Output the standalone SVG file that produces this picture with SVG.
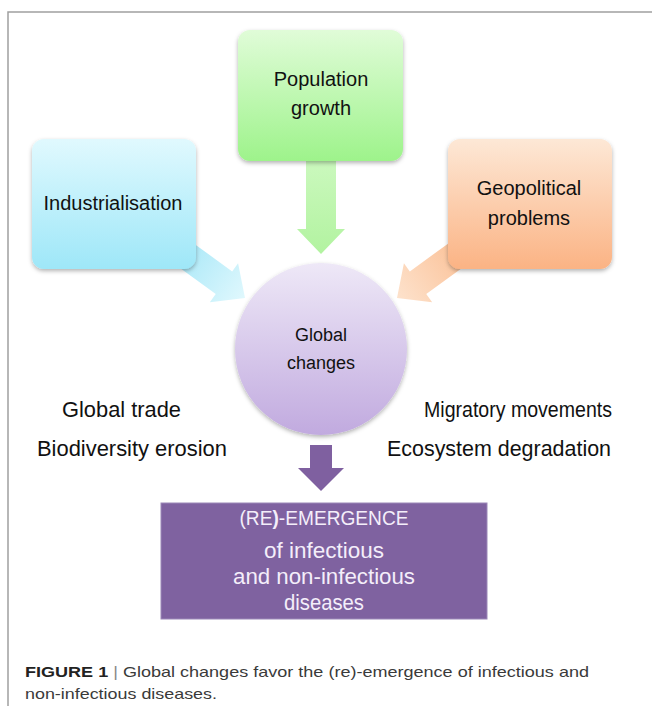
<svg xmlns="http://www.w3.org/2000/svg" width="652" height="706" viewBox="0 0 652 706">
  <defs>
    <style>
      .t { font-family: "Liberation Sans", Arial, sans-serif; fill: #111; }
      .box { font-size: 20px; text-anchor: middle; }
      .mid { font-size: 21.5px; }
      .wt { font-family: "Liberation Sans", Arial, sans-serif; fill: #f4eefa; text-anchor: middle; }
      .cap { font-family: "Liberation Sans", Arial, sans-serif; font-size: 15px; fill: #3a3a3a; }
      .frame { stroke: #a0a0a0; stroke-width: 1.5; fill: none; }
    </style>
    <filter id="sh" x="-20%" y="-20%" width="140%" height="150%">
      <feDropShadow dx="0" dy="2" stdDeviation="2" flood-color="#000" flood-opacity="0.3"/>
    </filter>
    <linearGradient id="gGreen" x1="0" y1="0" x2="0" y2="1">
      <stop offset="0" stop-color="#e0fcd8"/>
      <stop offset="1" stop-color="#9ef38b"/>
    </linearGradient>
    <linearGradient id="gCyan" x1="0" y1="0" x2="0" y2="1">
      <stop offset="0" stop-color="#e0f9fe"/>
      <stop offset="1" stop-color="#9ee7f8"/>
    </linearGradient>
    <linearGradient id="gOrange" x1="0" y1="0" x2="0" y2="1">
      <stop offset="0" stop-color="#fde8d6"/>
      <stop offset="1" stop-color="#fbb384"/>
    </linearGradient>
    <linearGradient id="gCircle" x1="0" y1="0" x2="0" y2="1">
      <stop offset="0" stop-color="#eee8f7"/>
      <stop offset="1" stop-color="#c1aadf"/>
    </linearGradient>
    <linearGradient id="aGreen" x1="0" y1="0" x2="0" y2="1">
      <stop offset="0" stop-color="#cef9c1"/>
      <stop offset="1" stop-color="#b2f3a0"/>
    </linearGradient>
    <linearGradient id="aCyan" x1="0" y1="0" x2="1" y2="0">
      <stop offset="0" stop-color="#a9e8f8"/>
      <stop offset="1" stop-color="#e0f8fd"/>
    </linearGradient>
    <linearGradient id="aOrange" x1="0" y1="0" x2="1" y2="0">
      <stop offset="0" stop-color="#fbc299"/>
      <stop offset="1" stop-color="#fde2cc"/>
    </linearGradient>
  </defs>

  <rect width="652" height="706" fill="#ffffff"/>
  <path class="frame" d="M652 12 H8 V706"/>

  <g id="connectors">
    <!-- Industrialisation -> Global changes -->
    <polygon transform="translate(245,298) rotate(36)" points="-80,-14 -26,-14 -26,-24 0,0 -26,24 -26,14 -80,14" fill="url(#aCyan)"/>
    <!-- Geopolitical -> Global changes -->
    <polygon transform="translate(397,298) rotate(144)" points="-80,-14 -26,-14 -26,-24 0,0 -26,24 -26,14 -80,14" fill="url(#aOrange)"/>
    <!-- Population -> Global changes -->
    <polygon points="306,150 336,150 336,229 345,229 321,254 297,229 306,229" fill="url(#aGreen)"/>
    <!-- Global changes -> (RE)-EMERGENCE -->
    <polygon points="310,445 332,445 332,468 344,468 321,491 298,468 310,468" fill="#7f60a0"/>
  </g>

  <g id="population">
    <rect x="238" y="30" width="165" height="131" rx="12" fill="url(#gGreen)" filter="url(#sh)"/>
    <text class="t box" x="321" y="86">Population</text>
    <text class="t box" x="321" y="115">growth</text>
  </g>

  <g id="industrialisation">
    <rect x="32" y="139" width="164" height="130" rx="12" fill="url(#gCyan)" filter="url(#sh)"/>
    <text class="t box" x="113" y="210">Industrialisation</text>
  </g>

  <g id="geopolitical">
    <rect x="448" y="139" width="164" height="130" rx="12" fill="url(#gOrange)" filter="url(#sh)"/>
    <text class="t box" x="529" y="195">Geopolitical</text>
    <text class="t box" x="529" y="225">problems</text>
  </g>

  <g id="global-changes">
    <circle cx="321" cy="349" r="86" fill="url(#gCircle)" filter="url(#sh)"/>
    <text class="t" x="321" y="341" font-size="18" text-anchor="middle">Global</text>
    <text class="t" x="321" y="369" font-size="18" text-anchor="middle">changes</text>
  </g>

  <g id="side-labels">
    <text class="t mid" x="62" y="417" textLength="119" lengthAdjust="spacingAndGlyphs">Global trade</text>
    <text class="t mid" x="37" y="456" textLength="190" lengthAdjust="spacingAndGlyphs">Biodiversity erosion</text>
    <text class="t mid" x="424" y="417" textLength="188" lengthAdjust="spacingAndGlyphs">Migratory movements</text>
    <text class="t mid" x="387" y="456" textLength="224" lengthAdjust="spacingAndGlyphs">Ecosystem degradation</text>
  </g>

  <g id="reemergence">
    <rect x="161" y="503" width="326" height="116" fill="#7f62a0" stroke="#9c88b8" stroke-width="1"/>
    <text class="wt" x="324" y="525" font-size="20" textLength="169" lengthAdjust="spacingAndGlyphs">(RE<tspan font-weight="bold">)</tspan>-EMERGENCE</text>
    <text class="wt" x="324" y="558" font-size="22" textLength="120" lengthAdjust="spacingAndGlyphs">of infectious</text>
    <text class="wt" x="324" y="584" font-size="22" textLength="182" lengthAdjust="spacingAndGlyphs">and non-infectious</text>
    <text class="wt" x="324" y="610" font-size="22" textLength="80" lengthAdjust="spacingAndGlyphs">diseases</text>
  </g>

  <g id="caption">
    <text class="cap" x="25" y="677" textLength="564" lengthAdjust="spacingAndGlyphs"><tspan font-weight="bold" fill="#222">FIGURE 1</tspan> <tspan fill="#888">|</tspan> Global changes favor the (re)-emergence of infectious and</text>
    <text class="cap" x="25" y="699" textLength="192" lengthAdjust="spacingAndGlyphs">non-infectious diseases.</text>
  </g>
</svg>
